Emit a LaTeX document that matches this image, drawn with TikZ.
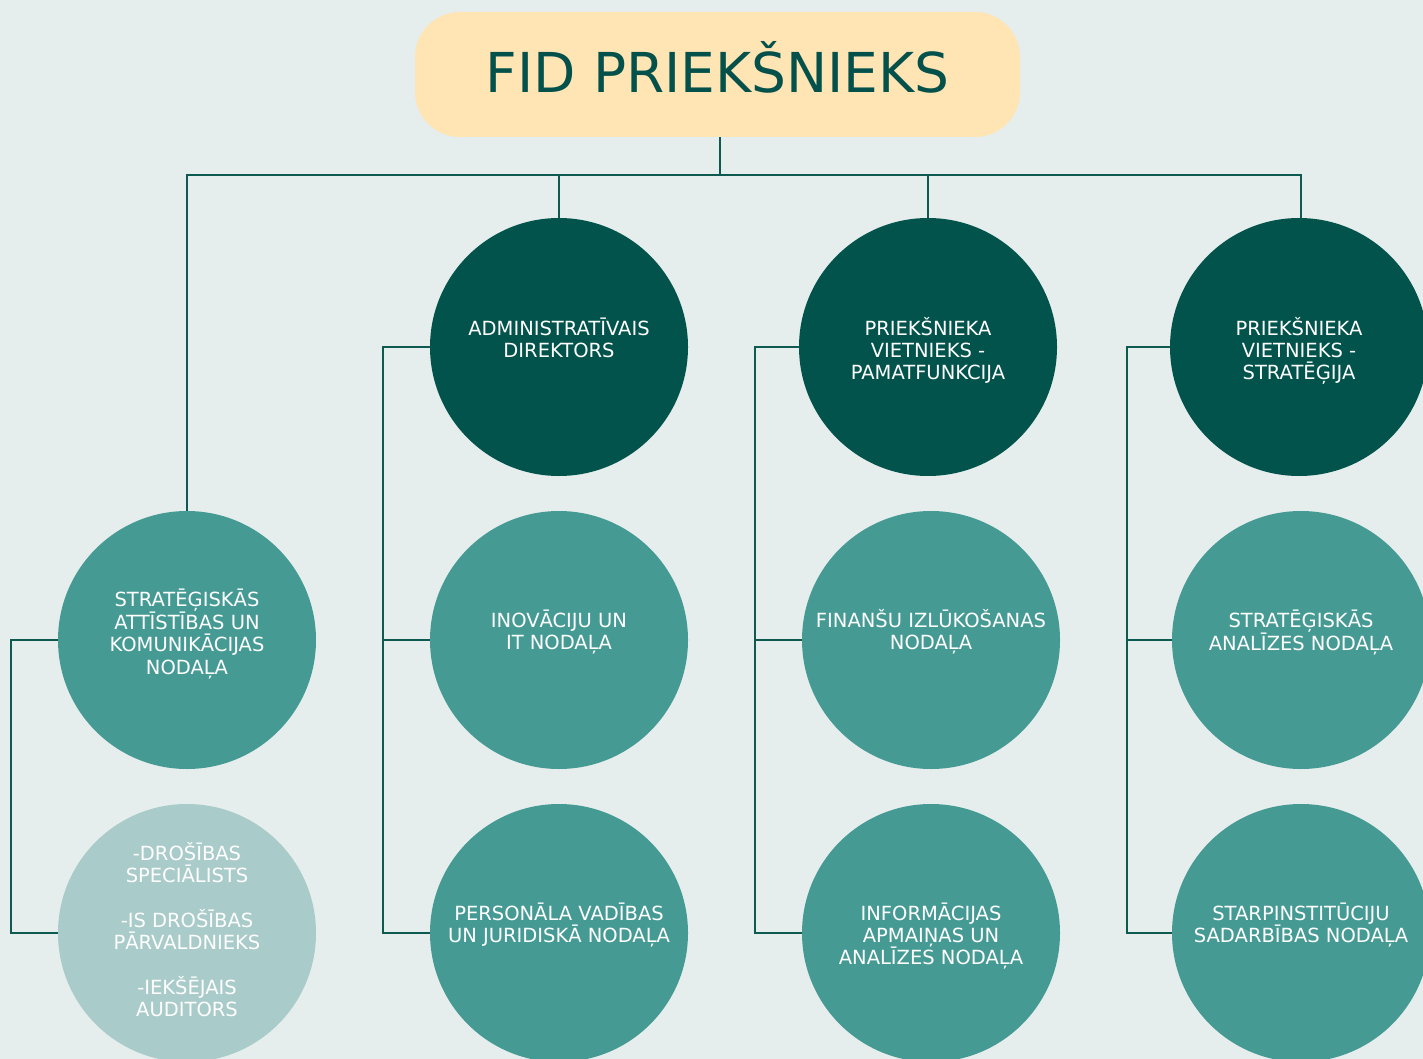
\documentclass[tikz,border=0pt]{standalone}
\usepackage{fontspec}
\setmainfont{DejaVu Sans}
\definecolor{bg}{HTML}{E5EEEC}
\definecolor{titlefill}{HTML}{FFE4B4}
\definecolor{titletext}{HTML}{03514A}
\definecolor{linec}{HTML}{0D5A50}
\definecolor{darkc}{HTML}{02534B}
\definecolor{tealc}{HTML}{469A94}
\definecolor{lightc}{HTML}{A9CBC9}
\newcommand{\firstlinestrut}{\rule{0pt}{19pt}}
\tikzset{
  conn/.style={draw=linec, line width=1.8pt},
  circ/.style={circle, minimum size=258pt, inner sep=0pt, draw=none},
  darkcirc/.style={circ, fill=darkc},
  tealcirc/.style={circ, fill=tealc},
  lightcirc/.style={circ, fill=lightc},
  ctext/.style={anchor=north, align=center, inner sep=0pt, text=white,
    font=\fontsize{19.5}{22.2}\selectfont},
}
\begin{document}
\begin{tikzpicture}[x=1pt,y=-1pt]
\fill[bg] (0,0) rectangle (1423,1059);
\useasboundingbox (0,0) rectangle (1423,1059);

% title
\node[fill=titlefill, rounded corners=45pt, minimum width=605pt, minimum height=125pt,
  inner sep=0pt, text=titletext, font=\fontsize{55}{60}\selectfont,
  text height=35.5pt, text depth=0pt] (title) at (717.5,74.5) {FID PRIEKŠNIEKS};

% circles
\node[darkcirc] (adm) at (559,347) {};
\node[darkcirc] (pam) at (928,347) {};
\node[darkcirc] (str) at (1299,347) {};
\node[tealcirc] (sak) at (187,640) {};
\node[tealcirc] (ino) at (559,640) {};
\node[tealcirc] (fin) at (931,640) {};
\node[tealcirc] (san) at (1301,640) {};
\node[lightcirc] (dro) at (187,933) {};
\node[tealcirc] (per) at (559,933) {};
\node[tealcirc] (inf) at (931,933) {};
\node[tealcirc] (sad) at (1301,933) {};

% texts
\node[ctext] (tadm) at (559,316) {\firstlinestrut ADMINISTRATĪVAIS\\DIREKTORS};
\node[ctext] (tpam) at (928,316) {\firstlinestrut PRIEKŠNIEKA\\VIETNIEKS -\\PAMATFUNKCIJA};
\node[ctext] (tstr) at (1299,316) {\firstlinestrut PRIEKŠNIEKA\\VIETNIEKS -\\STRATĒĢIJA};
\node[ctext] (tsak) at (187,587) {\firstlinestrut STRATĒĢISKĀS\\ATTĪSTĪBAS UN\\KOMUNIKĀCIJAS\\NODAĻA};
\node[ctext] (tino) at (559,608) {\firstlinestrut INOVĀCIJU UN\\IT NODAĻA};
\node[ctext] (tfin) at (931,608) {\firstlinestrut FINANŠU IZLŪKOŠANAS\\NODAĻA};
\node[ctext] (tsan) at (1301,608) {\firstlinestrut STRATĒĢISKĀS\\ANALĪZES NODAĻA};
\node[ctext] (tdro) at (187,841) {\firstlinestrut -DROŠĪBAS\\SPECIĀLISTS\\[22.5pt]-IS DROŠĪBAS\\PĀRVALDNIEKS\\[22.5pt]-IEKŠĒJAIS\\AUDITORS};
\node[ctext] (tper) at (559,901) {\firstlinestrut PERSONĀLA VADĪBAS\\UN JURIDISKĀ NODAĻA};
\node[ctext] (tinf) at (931,901) {\firstlinestrut INFORMĀCIJAS\\APMAIŅAS UN\\ANALĪZES NODAĻA};
\node[ctext] (tsad) at (1301,901) {\firstlinestrut STARPINSTITŪCIJU\\SADARBĪBAS NODAĻA};

% connectors
\coordinate (hub) at (720,175);
\draw[conn] (title.south -| hub) -- (hub);
\draw[conn] (sak.north) |- (hub);
\draw[conn] (hub) -| (san.north |- str.north);
\draw[conn] (adm.north) -- (adm.north |- hub);
\draw[conn] (pam.north) -- (pam.north |- hub);

\coordinate (b1) at (11,640);
\coordinate (b2) at (383,347);
\coordinate (b3) at (755,347);
\coordinate (b4) at (1127,347);
\draw[conn] (sak.west) -- (b1) |- (dro.west);
\draw[conn] (adm.west) -- (b2) |- (per.west);
\draw[conn] (b2 |- ino.west) -- (ino.west);
\draw[conn] (pam.west) -- (b3) |- (inf.west);
\draw[conn] (b3 |- fin.west) -- (fin.west);
\draw[conn] (str.west) -- (b4) |- (sad.west);
\draw[conn] (b4 |- san.west) -- (san.west);
\end{tikzpicture}
\end{document}
